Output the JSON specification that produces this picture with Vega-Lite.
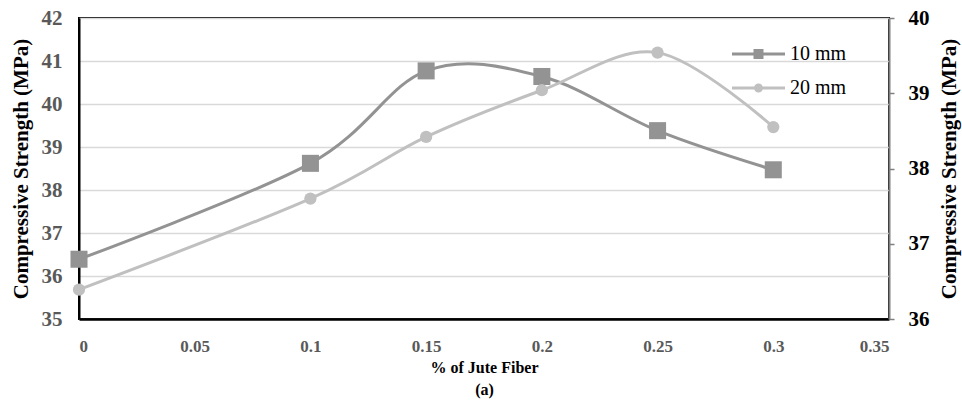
{
  "$schema": "https://vega.github.io/schema/vega-lite/v6.json",
  "autosize": {"type": "none"},
  "padding": {"left": 79, "top": 18, "right": 73, "bottom": 91},
  "width": 810,
  "height": 301,
  "background": "white",
  "config": {
    "view": {"stroke": "black", "strokeWidth": 2},
    "font": "Liberation Serif",
    "axis": {"labelFont": "Liberation Serif", "titleFont": "Liberation Serif", "labelFontWeight": "bold", "titleFontWeight": "bold", "titleColor": "black"}
  },
  "data": {
    "values": [
      {"pct": 0, "series": "10 mm", "strength": 36.39},
      {"pct": 0.1, "series": "10 mm", "strength": 38.62},
      {"pct": 0.15, "series": "10 mm", "strength": 40.77},
      {"pct": 0.2, "series": "10 mm", "strength": 40.64},
      {"pct": 0.25, "series": "10 mm", "strength": 39.38},
      {"pct": 0.3, "series": "10 mm", "strength": 38.47},
      {"pct": 0, "series": "20 mm", "strength": 36.39},
      {"pct": 0.1, "series": "20 mm", "strength": 37.6},
      {"pct": 0.15, "series": "20 mm", "strength": 38.42},
      {"pct": 0.2, "series": "20 mm", "strength": 39.04},
      {"pct": 0.25, "series": "20 mm", "strength": 39.54},
      {"pct": 0.3, "series": "20 mm", "strength": 38.55}
    ]
  },
  "encoding": {
    "x": {
      "field": "pct", "type": "quantitative",
      "scale": {"domain": [0, 0.35], "nice": false, "zero": false},
      "axis": {
        "values": [0, 0.05, 0.1, 0.15, 0.2, 0.25, 0.3, 0.35],
        "format": "~g",
        "title": ["% of Jute Fiber", "(a)"],
        "titleFontSize": 16, "titleLineHeight": 22, "titlePadding": 5,
        "labelFontSize": 17, "labelColor": "#595959", "labelPadding": 19,
        "ticks": false, "grid": false,
        "domainColor": "black", "domainWidth": 2.5
      }
    }
  },
  "layer": [
    {
      "transform": [{"filter": "datum.series === '10 mm'"}],
      "encoding": {
        "y": {
          "field": "strength", "type": "quantitative",
          "scale": {"domain": [35, 42], "nice": false, "zero": false},
          "axis": {
            "orient": "left", "title": "Compressive Strength (MPa)",
            "values": [35, 36, 37, 38, 39, 40, 41, 42],
            "titleFontSize": 21, "titlePadding": 10,
            "labelFontSize": 21, "labelColor": "#595959", "labelPadding": 17,
            "ticks": false, "grid": true, "gridColor": "#d9d9d9", "gridWidth": 1.5,
            "domainColor": "black", "domainWidth": 2
          }
        },
        "color": {
          "field": "series", "type": "nominal",
          "scale": {"domain": ["10 mm", "20 mm"], "range": ["#939393", "#c0c0c0"]},
          "legend": {
            "title": null, "orient": "none", "legendX": 669.5, "legendY": 26,
            "padding": 0, "symbolSize": 400, "labelOffset": 21.5, "rowPadding": 14,
            "labelFont": "Liberation Serif", "labelFontSize": 20, "labelColor": "black",
            "encode": {
              "symbols": {
                "update": {
                  "shape": {"signal": "datum.value === '10 mm' ? 'M-2.65,-0.15H2.65V0.15H-2.65ZM-0.5,-0.5H0.5V0.5H-0.5Z' : 'M-2.65,-0.15H2.65V0.15H-2.65ZM-0.45,0A0.45,0.45 0 1,1 0.45,0A0.45,0.45 0 1,1 -0.45,0Z'"},
                  "fill": {"signal": "datum.value === '10 mm' ? '#939393' : '#c0c0c0'"},
                  "fillOpacity": {"value": 1},
                  "strokeWidth": {"value": 0}
                }
              }
            }
          }
        }
      },
      "layer": [
        {"mark": {"type": "line", "interpolate": "cardinal", "strokeWidth": 3}},
        {"mark": {"type": "point", "shape": "square", "filled": true, "size": 290, "opacity": 1}}
      ]
    },
    {
      "transform": [{"filter": "datum.series === '20 mm'"}],
      "encoding": {
        "y": {
          "field": "strength", "type": "quantitative",
          "scale": {"domain": [36, 40], "nice": false, "zero": false},
          "axis": {
            "orient": "right", "title": "Compressive Strength (MPa)",
            "values": [36, 37, 38, 39, 40],
            "titleAngle": 270, "titleBaseline": "top",
            "titleFontSize": 21, "titlePadding": 9,
            "labelFontSize": 21, "labelColor": "black", "labelPadding": 14,
            "ticks": true, "tickSize": 5, "tickColor": "#808080", "tickWidth": 1.5,
            "grid": false,
            "domainColor": "#808080", "domainWidth": 2
          }
        },
        "color": {"field": "series", "type": "nominal"}
      },
      "layer": [
        {"mark": {"type": "line", "interpolate": "cardinal", "strokeWidth": 3}},
        {"mark": {"type": "point", "shape": "circle", "filled": true, "size": 150, "opacity": 1}}
      ]
    }
  ],
  "resolve": {"scale": {"y": "independent"}, "axis": {"y": "independent"}}
}
